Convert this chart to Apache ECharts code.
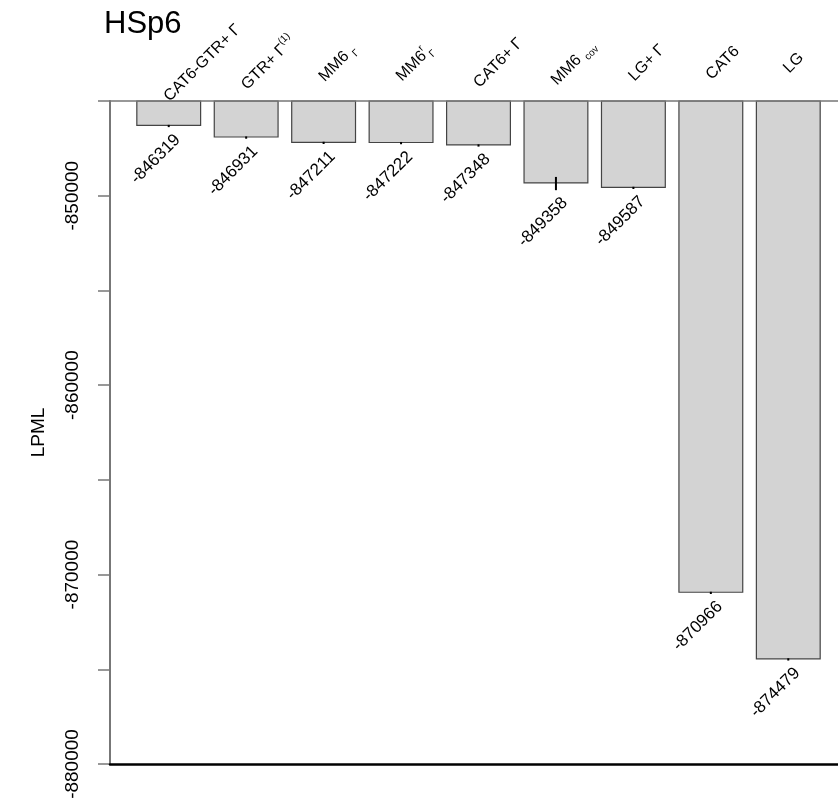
<!DOCTYPE html>
<html>
<head>
<meta charset="utf-8">
<script src="https://cdn.jsdelivr.net/npm/echarts@6/dist/echarts.min.js"></script>
<style>
  html, body { margin: 0; padding: 0; background: #fff; }
  #show { width: 838px; height: 804px; }
</style>
</head>
<body>
<div id="show"></div>
<script>
// model names, plain and as rich text for the rotated labels
var categories = ['CAT6-GTR+Γ', 'GTR+Γ(1)', 'MM6Γ', 'MM6rΓ', 'CAT6+Γ', 'MM6cov', 'LG+Γ', 'CAT6', 'LG'];
var tickLabels = ['CAT6-GTR+ Γ', 'GTR+ Γ{sup|(1)}', 'MM6 {sub|Γ}', 'MM6{sup|r}{sub|Γ}', 'CAT6+ Γ', 'MM6 {sub|cov}', 'LG+ Γ', 'CAT6', 'LG'];
var lpml = [-846319, -846931, -847211, -847222, -847348, -849358, -849587, -870966, -874479];
var errors = [60, 60, 60, 60, 60, 350, 60, 60, 60];
var yTicks = [-880000, -870000, -860000, -850000];

var font = 'Liberation Sans, Arial, sans-serif';
var labelSize = 16, smallSize = 10;
var myChart = echarts.init(document.getElementById('show'));

// width of a rich label, so the rotated names start just left of the bar centre
var ctx = document.createElement('canvas').getContext('2d');
function labelWidth(s) {
    var w = 0;
    var parts = s.split(/(\{(?:sup|sub)\|[^}]*\})/);
    for (var k = 0; k < parts.length; k++) {
        var p = parts[k];
        if (!p) continue;
        var m = p.match(/^\{(?:sup|sub)\|([^}]*)\}$/);
        if (m) { ctx.font = smallSize + 'px ' + font; w += ctx.measureText(m[1]).width; }
        else { ctx.font = labelSize + 'px ' + font; w += ctx.measureText(p).width; }
    }
    return w;
}

var errData = [];
var nameData = [];
for (var j = 0; j < lpml.length; j++) {
    errData.push([j, lpml[j], errors[j]]);
    nameData.push([j, -845000]);
}

var option = {
    animation: false,
    backgroundColor: '#fff',
    title: {
        text: 'HSp6',
        left: 104,
        top: 9,
        padding: 0,
        textStyle: { fontSize: 31, fontWeight: 'normal', color: '#000', fontFamily: font }
    },
    grid: [
        { left: 110, right: 0, top: 101, bottom: 40, outerBoundsMode: 'none', containLabel: false },
        { left: 130, right: 11, top: 101, bottom: 40, outerBoundsMode: 'none', containLabel: false }
    ],
    xAxis: [
        {
            gridIndex: 0, type: 'value', position: 'bottom', min: 0, max: 1, z: 5,
            axisLine: { lineStyle: { color: '#000', width: 2.5 } },
            axisTick: { show: false }, axisLabel: { show: false }, splitLine: { show: false }
        },
        {
            gridIndex: 0, type: 'value', position: 'top', min: 0, max: 1, z: 5,
            axisLine: { lineStyle: { color: '#777', width: 1.5 } },
            axisTick: { show: false }, axisLabel: { show: false }, splitLine: { show: false }
        },
        {
            gridIndex: 1, type: 'category', position: 'top', data: categories,
            axisLine: { show: false }, axisTick: { show: false }, axisLabel: { show: false }
        }
    ],
    yAxis: [
        {
            gridIndex: 0, type: 'value', min: -880000, max: -845000, interval: 5000,
            name: 'LPML', nameLocation: 'middle', nameGap: 62,
            nameTextStyle: { fontSize: 19, color: '#000', fontFamily: font },
            axisLine: { show: true, lineStyle: { color: '#777', width: 2 } },
            axisTick: { show: true, length: 12, lineStyle: { color: '#777', width: 1.5 } },
            axisLabel: {
                rotate: 90, margin: 28, fontSize: 19, color: '#000', fontFamily: font,
                formatter: function (v) { return yTicks.indexOf(v) >= 0 ? String(v) : ''; }
            },
            splitLine: { show: false }
        },
        { gridIndex: 1, type: 'value', min: -880000, max: -845000, show: false }
    ],
    series: [
        {
            name: 'LPML',
            type: 'bar',
            xAxisIndex: 2,
            yAxisIndex: 1,
            barWidth: 65,
            clip: true,
            data: lpml,
            itemStyle: { color: '#d3d3d3', borderColor: '#444', borderWidth: 1.2 }
        },
        {
            name: 'error',
            type: 'custom',
            xAxisIndex: 2,
            yAxisIndex: 1,
            z: 3,
            data: errData,
            renderItem: function (params, api) {
                var x = api.value(0), v = api.value(1), e = api.value(2);
                var top = api.coord([x, v + e]);
                var bot = api.coord([x, v - e]);
                return {
                    type: 'group',
                    children: [
                        { type: 'line', shape: { x1: top[0], y1: top[1], x2: bot[0], y2: bot[1] },
                          style: { stroke: '#000', lineWidth: 2 } },
                        { type: 'text', x: bot[0] + 3, y: bot[1] + 4, rotation: Math.PI / 4,
                          style: { text: String(v), align: 'right', verticalAlign: 'top',
                                   font: '17px ' + font, fill: '#000' } }
                    ]
                };
            }
        },
        {
            // rotated model names above the bars
            name: 'names',
            type: 'custom',
            xAxisIndex: 2,
            yAxisIndex: 1,
            z: 3,
            data: nameData,
            renderItem: function (params, api) {
                var idx = api.value(0);
                var pt = api.coord([idx, api.value(1)]);
                var label = tickLabels[idx];
                var dx = -6 + 0.354 * (labelWidth(label) + 11);
                return {
                    type: 'text',
                    x: pt[0] + dx,
                    y: pt[1] - 38,
                    rotation: Math.PI / 4,
                    style: {
                        text: label,
                        align: 'center',
                        verticalAlign: 'middle',
                        fontSize: labelSize,
                        fontFamily: font,
                        fill: '#000',
                        lineHeight: 22,
                        rich: {
                            sup: { fontSize: smallSize, fontFamily: font, fill: '#000', verticalAlign: 'top', lineHeight: 11 },
                            sub: { fontSize: smallSize, fontFamily: font, fill: '#000', verticalAlign: 'bottom', lineHeight: 11 }
                        }
                    }
                };
            }
        }
    ]
};
myChart.setOption(option);
</script>
</body>
</html>
